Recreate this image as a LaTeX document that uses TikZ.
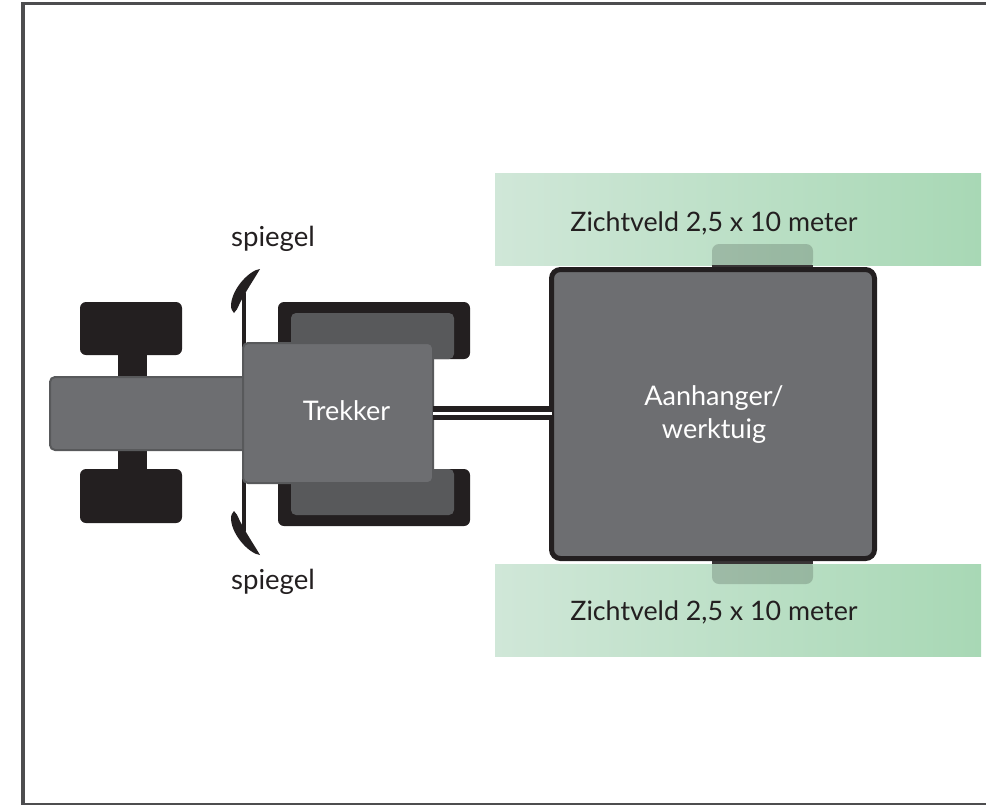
\documentclass[tikz,border=0pt]{standalone}
\usepackage{fontspec}
\setmainfont{Lato}
\definecolor{bodygrey}{HTML}{6D6E71}
\definecolor{edgegrey}{HTML}{58595B}
\definecolor{tyre}{HTML}{231F20}
\definecolor{rimgrey}{HTML}{58595B}
\definecolor{framegrey}{HTML}{4D4D4F}
\definecolor{greenL}{HTML}{D0E7D8}
\definecolor{greenR}{HTML}{A8D8B5}
\tikzset{
  box/.style={rectangle,inner sep=0pt,outer sep=0pt,anchor=north west},
  tyrebox/.style={box,fill=tyre,rounded corners=6pt},
  rimbox/.style={box,fill=rimgrey,rounded corners=5pt},
  bodybox/.style={box,fill=bodygrey,draw=edgegrey,line width=2pt,rounded corners=5pt},
  bodytext/.style={inner sep=0pt,text=white,align=center,font=\fontsize{27}{33}\selectfont},
  zone/.style={box,left color=greenL,right color=greenR,minimum width=486pt,minimum height=92pt},
  label/.style={inner sep=0pt,text=tyre,font=\fontsize{26.8}{30}\selectfont},
  tab/.style={fill=black,fill opacity=.17,rounded corners=7pt},
  mirror/.style={fill=tyre,draw=none},
  hitch/.style={draw=tyre,line width=13.5pt},
  hitchgap/.style={draw=white,line width=3pt}
}
\begin{document}
\begin{tikzpicture}[x=1pt,y=-1pt]
\useasboundingbox (0,0) rectangle (986,804);
\draw[framegrey,line width=3.2pt] (986,3.6) -- (23,3.6) -- (23,804.6) -- (986,804.6);
% zones
\node[zone] (zonetop) at (495,173) {};
\node[zone] (zonebot) at (495,564) {};
\path[tab] (712,268) -- (712,244) -- (813,244) -- (813,268) [sharp corners] -- cycle;
\path[tab] (712,560) -- (712,584) -- (813,584) -- (813,560) [sharp corners] -- cycle;
\fill[tyre!90!white] (712,265) rectangle (813,268);
\fill[tyre!90!white] (712,560) rectangle (813,563.5);
% front axle and tyres
\fill[tyre] (118,350) rectangle (147,380);
\fill[tyre] (118,448) rectangle (147,474);
\node[tyrebox,minimum width=102pt,minimum height=53pt] (ftl) at (80,302) {};
\node[tyrebox,minimum width=102pt,minimum height=54pt] (ftr) at (80,469) {};
% rear tyres
\node[tyrebox,minimum width=192pt,minimum height=57pt] (rtl) at (278,302) {};
\node[tyrebox,minimum width=192pt,minimum height=57pt] (rtr) at (278,469) {};
\node[rimbox,minimum width=163pt,minimum height=46pt] (ril) at (291,313) {};
\node[rimbox,minimum width=163pt,minimum height=46pt] (rir) at (291,469) {};
% mirrors
\fill[tyre] (242,293) rectangle (246,350);
\fill[tyre] (242,478) rectangle (246,531);
\path[mirror] (260,269) .. controls (250,270) and (232,288) .. (231,305) .. controls (231,309) and (232,311) .. (234,313) .. controls (236,311) and (238,308) .. (239,305) .. controls (241,300) and (245,295) .. (246,292) .. controls (250,285) and (256,276) .. (260,269) -- cycle;
\path[mirror] (260,555) .. controls (250,554) and (232,536) .. (231,519) .. controls (231,515) and (232,513) .. (234,511) .. controls (236,513) and (238,516) .. (239,519) .. controls (241,524) and (245,529) .. (246,532) .. controls (250,539) and (256,548) .. (260,555) -- cycle;
% hood and body
\node[bodybox,minimum width=198pt,minimum height=73pt] (hood) at (50,377) {};
\node[bodybox,minimum width=190pt,minimum height=140pt] (trekker) at (243,343) {};
% trailer
\node[bodybox,draw=tyre,line width=5pt,rounded corners=9pt,minimum width=323pt,minimum height=289pt] (trailer) at (551.5,269.5) {};
% hitch
\draw[hitch] (trekker.east) -- (trekker.east -| trailer.west);
\draw[hitchgap] (trekker.east) -- (trekker.east -| trailer.west);
% labels
\node[bodytext] (trekkertext) at (346.5,411) {Trekker};
\node[bodytext] (trailertext) at (714,415) {Aanhanger/\\werktuig};
\node[label,font=\fontsize{27.6}{30}\selectfont] (spiegelA) at (273,239) {spiegel};
\node[label,font=\fontsize{27.6}{30}\selectfont] (spiegelB) at (273,582) {spiegel};
\node[label] (zichtA) at (714,223) {Zichtveld 2,5 x 10 meter};
\node[label] (zichtB) at (714,612) {Zichtveld 2,5 x 10 meter};
\end{tikzpicture}
\end{document}
